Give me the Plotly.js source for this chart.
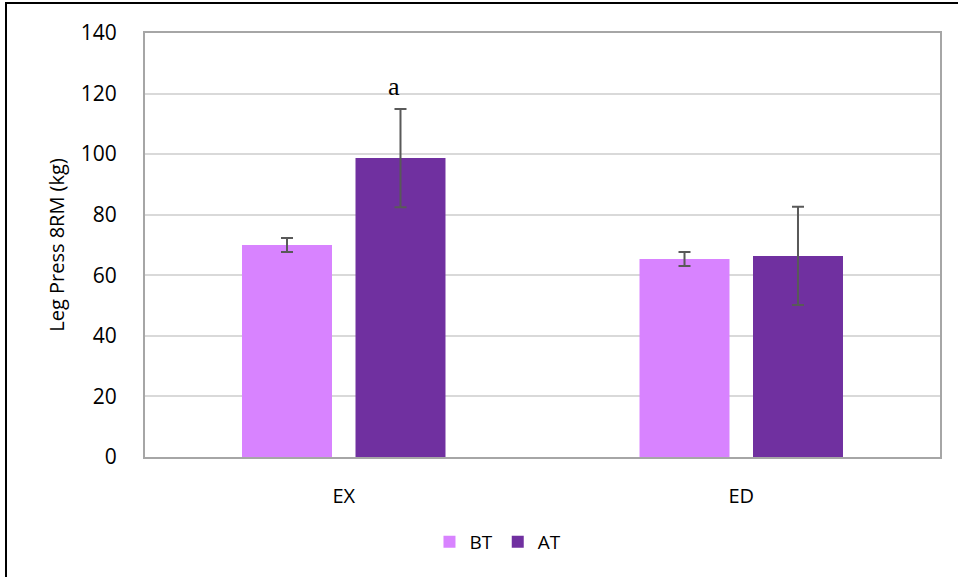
<!DOCTYPE html>
<html><head><meta charset="utf-8">
<script src="https://cdn.plot.ly/plotly-3.0.1.min.js"></script>
<style>
html,body{margin:0;padding:0;background:#fff;}
#wrap{position:relative;width:958px;height:577px;}
#chart{position:absolute;left:0;top:0;width:958px;height:577px;}
#frame{position:absolute;left:5px;top:2px;width:953px;height:575px;border-top:2px solid #000;border-left:2px solid #000;box-sizing:border-box;pointer-events:none;}
</style></head>
<body>
<div id="wrap"><div id="chart"></div><div id="frame"></div></div>
<script>
const categories = ["EX", "ED"];
const seriesNames = ["BT", "AT"];
const btValues = [70.0, 65.4];
const btErrors = [2.3, 2.3];
const atValues = [98.7, 66.4];
const atErrors = [16.2, 16.2];
const yTicks = [0, 20, 40, 60, 80, 100, 120, 140];
const annoText = "a";

const errStyle = {type: "data", visible: true, color: "#595959", thickness: 2, width: 6};

const traces = [
  {type: "bar", name: seriesNames[0], x: categories, y: btValues,
   marker: {color: "#d883ff"},
   error_y: Object.assign({array: btErrors}, errStyle)},
  {type: "bar", name: seriesNames[1], x: categories, y: atValues,
   marker: {color: "#7030a0"},
   error_y: Object.assign({array: atErrors}, errStyle)}
];

const layout = {
  width: 958, height: 577,
  margin: {l: 145, r: 18, t: 33, b: 120},
  paper_bgcolor: "#fff", plot_bgcolor: "#fff",
  barmode: "group", bargap: 0.429, bargroupgap: 0.207,
  font: {family: "'Open Sans', 'Noto Sans', sans-serif", color: "#000"},
  xaxis: {
    showgrid: false, showline: true, mirror: true, linecolor: "#a6a6a6", linewidth: 2,
    tickfont: {size: 20}, ticklabelstandoff: 20, zeroline: false
  },
  yaxis: {
    range: [0, 140], tickvals: yTicks, showgrid: true, gridcolor: "#d9d9d9", gridwidth: 1.5,
    showline: true, mirror: true, linecolor: "#a6a6a6", linewidth: 2, zeroline: false,
    tickfont: {size: 21}, ticklabelstandoff: 22,
    title: {text: "Leg Press 8RM (kg)", font: {size: 20}, standoff: 11}
  },
  legend: {orientation: "h", x: 0.444, xanchor: "center", y: -0.2, yanchor: "middle",
           font: {size: 19}, itemwidth: 30, traceorder: "normal"},
  annotations: [{
    xref: "x", yref: "y", x: categories[0], y: 122.5, xshift: 50, text: annoText,
    showarrow: false, font: {family: "'Liberation Serif', 'DejaVu Serif', serif", size: 26, color: "#000"},
    yanchor: "middle"
  }]
};

Plotly.newPlot("chart", traces, layout, {displayModeBar: false});
</script>
</body></html>
